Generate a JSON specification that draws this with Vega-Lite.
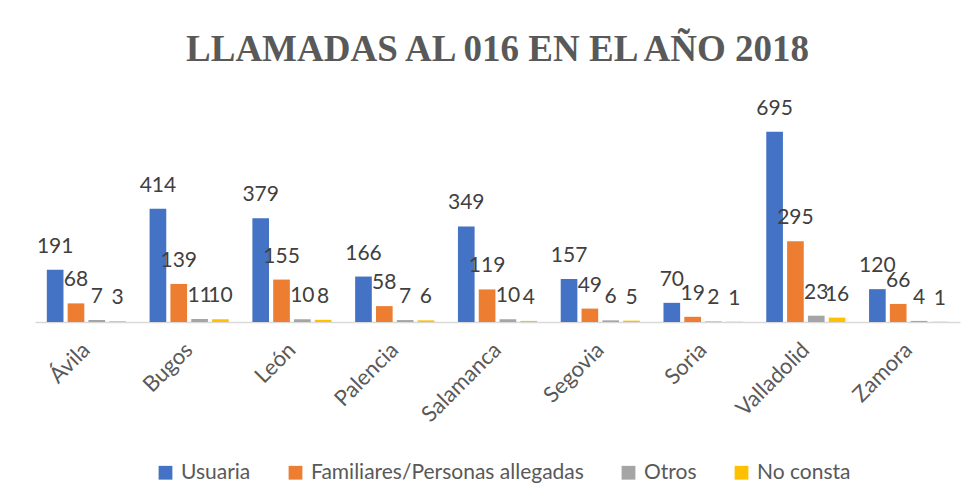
{
  "$schema": "https://vega.github.io/schema/vega-lite/v6.json",
  "width": 925,
  "height": 219,
  "autosize": {"type": "none"},
  "padding": {"left": 35, "top": 103, "right": 16, "bottom": 182},
  "background": "white",
  "title": {
    "text": "LLAMADAS AL 016 EN EL AÑO 2018",
    "font": "Liberation Serif",
    "fontSize": 37,
    "fontWeight": "bold",
    "color": "#595959",
    "anchor": "middle",
    "offset": 29
  },
  "data": {
    "values": [
      {"provincia": "Ávila", "tipo": "Usuaria", "valor": 191},
      {"provincia": "Ávila", "tipo": "Familiares/Personas allegadas", "valor": 68},
      {"provincia": "Ávila", "tipo": "Otros", "valor": 7},
      {"provincia": "Ávila", "tipo": "No consta", "valor": 3},
      {"provincia": "Bugos", "tipo": "Usuaria", "valor": 414},
      {"provincia": "Bugos", "tipo": "Familiares/Personas allegadas", "valor": 139},
      {"provincia": "Bugos", "tipo": "Otros", "valor": 11},
      {"provincia": "Bugos", "tipo": "No consta", "valor": 10},
      {"provincia": "León", "tipo": "Usuaria", "valor": 379},
      {"provincia": "León", "tipo": "Familiares/Personas allegadas", "valor": 155},
      {"provincia": "León", "tipo": "Otros", "valor": 10},
      {"provincia": "León", "tipo": "No consta", "valor": 8},
      {"provincia": "Palencia", "tipo": "Usuaria", "valor": 166},
      {"provincia": "Palencia", "tipo": "Familiares/Personas allegadas", "valor": 58},
      {"provincia": "Palencia", "tipo": "Otros", "valor": 7},
      {"provincia": "Palencia", "tipo": "No consta", "valor": 6},
      {"provincia": "Salamanca", "tipo": "Usuaria", "valor": 349},
      {"provincia": "Salamanca", "tipo": "Familiares/Personas allegadas", "valor": 119},
      {"provincia": "Salamanca", "tipo": "Otros", "valor": 10},
      {"provincia": "Salamanca", "tipo": "No consta", "valor": 4},
      {"provincia": "Segovia", "tipo": "Usuaria", "valor": 157},
      {"provincia": "Segovia", "tipo": "Familiares/Personas allegadas", "valor": 49},
      {"provincia": "Segovia", "tipo": "Otros", "valor": 6},
      {"provincia": "Segovia", "tipo": "No consta", "valor": 5},
      {"provincia": "Soria", "tipo": "Usuaria", "valor": 70},
      {"provincia": "Soria", "tipo": "Familiares/Personas allegadas", "valor": 19},
      {"provincia": "Soria", "tipo": "Otros", "valor": 2},
      {"provincia": "Soria", "tipo": "No consta", "valor": 1},
      {"provincia": "Valladolid", "tipo": "Usuaria", "valor": 695},
      {"provincia": "Valladolid", "tipo": "Familiares/Personas allegadas", "valor": 295},
      {"provincia": "Valladolid", "tipo": "Otros", "valor": 23},
      {"provincia": "Valladolid", "tipo": "No consta", "valor": 16},
      {"provincia": "Zamora", "tipo": "Usuaria", "valor": 120},
      {"provincia": "Zamora", "tipo": "Familiares/Personas allegadas", "valor": 66},
      {"provincia": "Zamora", "tipo": "Otros", "valor": 4},
      {"provincia": "Zamora", "tipo": "No consta", "valor": 1}
    ]
  },
  "encoding": {
    "x": {
      "field": "provincia",
      "type": "nominal",
      "sort": null,
      "title": null,
      "scale": {"paddingInner": 0.23, "paddingOuter": 0.115},
      "axis": {
        "labelAngle": -45,
        "labelAlign": "right",
        "labelBaseline": "middle",
        "labelFont": "Lato",
        "labelFontSize": 22,
        "labelColor": "#595959",
        "labelPadding": 24,
        "ticks": false,
        "domainColor": "#d9d9d9",
        "domainWidth": 1.5,
        "grid": false
      }
    },
    "xOffset": {
      "field": "tipo",
      "type": "nominal",
      "sort": ["Usuaria", "Familiares/Personas allegadas", "Otros", "No consta"],
      "scale": {"paddingInner": 0.2, "paddingOuter": 0}
    },
    "y": {
      "field": "valor",
      "type": "quantitative",
      "scale": {"domain": [0, 800]},
      "axis": null
    }
  },
  "layer": [
    {
      "mark": {"type": "bar"},
      "encoding": {
        "color": {
          "field": "tipo",
          "type": "nominal",
          "sort": ["Usuaria", "Familiares/Personas allegadas", "Otros", "No consta"],
          "scale": {
            "domain": ["Usuaria", "Familiares/Personas allegadas", "Otros", "No consta"],
            "range": ["#4472C4", "#ED7D31", "#A5A5A5", "#FFC000"]
          },
          "legend": {
            "title": null,
            "orient": "none",
            "direction": "horizontal",
            "legendX": 120,
            "legendY": 359,
            "symbolType": "square",
            "symbolSize": 190,
            "symbolStrokeWidth": 0,
            "labelFont": "Lato",
            "labelFontSize": 21,
            "labelColor": "#595959",
            "labelLimit": 0,
            "columnPadding": 34,
            "labelOffset": 5
          }
        }
      }
    },
    {
      "mark": {
        "type": "text",
        "font": "Lato",
        "fontSize": 21,
        "color": "#404040",
        "baseline": "alphabetic",
        "dy": -17
      },
      "encoding": {
        "text": {"field": "valor", "type": "quantitative"}
      }
    }
  ],
  "config": {"view": {"stroke": null}}
}
